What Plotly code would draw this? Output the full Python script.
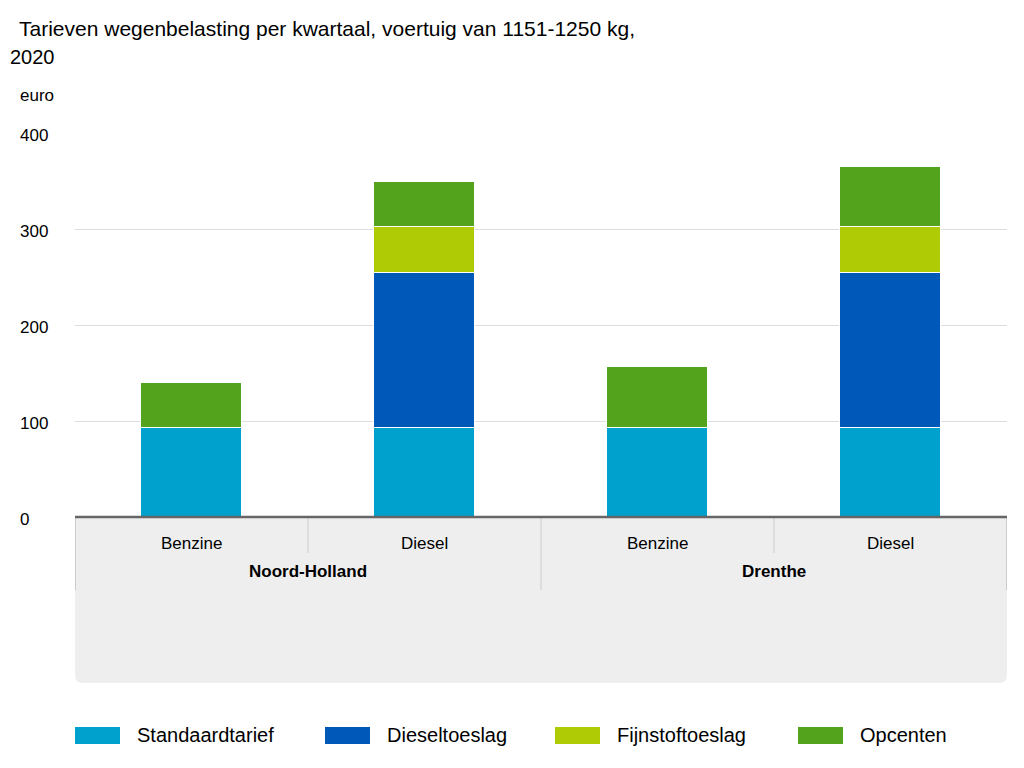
import plotly.graph_objects as go

bars = ["NH Benzine", "NH Diesel", "DR Benzine", "DR Diesel"]
sub_labels = ["Benzine", "Diesel", "Benzine", "Diesel"]
groups = ["Noord-Holland", "Drenthe"]
standaard = [93, 93, 93, 93]
diesel = [0, 161, 0, 161]
fijnstof = [0, 48, 0, 48]
opcenten = [47, 47, 63, 63]
yticks = [0, 100, 200, 300, 400]

series = [("Standaardtarief", standaard, "#00a1cd"),
          ("Dieseltoeslag", diesel, "#0058b8"),
          ("Fijnstoftoeslag", fijnstof, "#afcb05"),
          ("Opcenten", opcenten, "#53a31d")]
legend_x = [75, 325, 555, 798]

fig = go.Figure()
xs = list(range(len(bars)))
for name, vals, col in series:
    fig.add_bar(x=xs, y=vals, name=name, marker=dict(color=col, line=dict(color="white", width=1.5)), width=0.43, showlegend=False)

O = 8  # page body margin
W, H = 1024 - O, 768 - O
left, right, top, bottom = 75 - O, 1007 - O, 133 - O, 517 - O
l, r, t, b = left, W - right, top, H - bottom
ph = H - t - b
pw = W - l - r
def py(p):
    return (bottom - (p - O)) / ph
def px(p):
    return ((p - O) - left) / pw

shapes = []
y0, y1 = py(517), py(683)
rad = 8 / pw
ry = 8 / ph
path = (f"M 0 {y0} L 1 {y0} L 1 {y1+ry} Q 1 {y1} {1-rad} {y1} L {rad} {y1} Q 0 {y1} 0 {y1+ry} Z")
shapes.append(dict(type="path", xref="paper", yref="paper", path=path, fillcolor="#eeeeee", line=dict(width=0), layer="below"))
for xp, ytop, ybot in [(308, 517, 553), (774, 517, 553), (541, 517, 590)]:
    shapes.append(dict(type="line", xref="paper", yref="paper", x0=px(xp), x1=px(xp), y0=py(ytop), y1=py(ybot), line=dict(color="#cccccc", width=1)))
for xp in [75.5, 1006.5]:
    shapes.append(dict(type="line", xref="paper", yref="paper", x0=px(xp), x1=px(xp), y0=py(517), y1=py(590), line=dict(color="#cccccc", width=1)))
shapes.append(dict(type="line", xref="paper", yref="paper", x0=0, x1=1, y0=0, y1=0, line=dict(color="#666666", width=2.5)))

ann = []
for i, s in enumerate(sub_labels):
    ann.append(dict(x=i, xref="x", y=py(543), yref="paper", text=s, showarrow=False, yanchor="middle", font=dict(size=17)))
for i, g in enumerate(groups):
    ann.append(dict(x=2 * i + 0.5, xref="x", y=py(571), yref="paper", text=f"<b>{g}</b>", showarrow=False, yanchor="middle", font=dict(size=17)))
for v in yticks:
    ann.append(dict(x=px(18), xref="paper", y=v, yref="y", text=str(v), showarrow=False, xanchor="left", yanchor="middle", font=dict(size=17), yshift=-2))
ann.append(dict(x=px(18), xref="paper", y=py(96), yref="paper", text="euro", showarrow=False, xanchor="left", yanchor="middle", font=dict(size=17)))
ann.append(dict(x=px(17), xref="paper", y=py(28), yref="paper", text="Tarieven wegenbelasting per kwartaal, voertuig van 1151-1250 kg,", showarrow=False, xanchor="left", yanchor="middle", font=dict(size=21)))
ann.append(dict(x=px(8), xref="paper", y=py(57), yref="paper", text="2020", showarrow=False, xanchor="left", yanchor="middle", font=dict(size=20)))
for (name, vals, col), lx in zip(series, legend_x):
    shapes.append(dict(type="rect", xref="paper", yref="paper", x0=px(lx), x1=px(lx + 45), y0=py(727), y1=py(744), fillcolor=col, line=dict(width=0)))
    ann.append(dict(x=px(lx + 60), xref="paper", y=py(735), yref="paper", text=name, showarrow=False, xanchor="left", yanchor="middle", font=dict(size=20)))

fig.update_layout(
    barmode="stack", width=W, height=H, margin=dict(l=l, r=r, t=t, b=b, autoexpand=False),
    plot_bgcolor="white", paper_bgcolor="white",
    font=dict(family="Liberation Sans, Arial", color="#000000", size=16),
    xaxis=dict(range=[-0.5, 3.5], showticklabels=False, showgrid=False, zeroline=False),
    yaxis=dict(range=[0, 400], tickvals=yticks, showticklabels=False, gridcolor="#dddddd", zeroline=False),
    shapes=shapes, annotations=ann, bargap=0, showlegend=False,
)
fig.write_html("out.html")
